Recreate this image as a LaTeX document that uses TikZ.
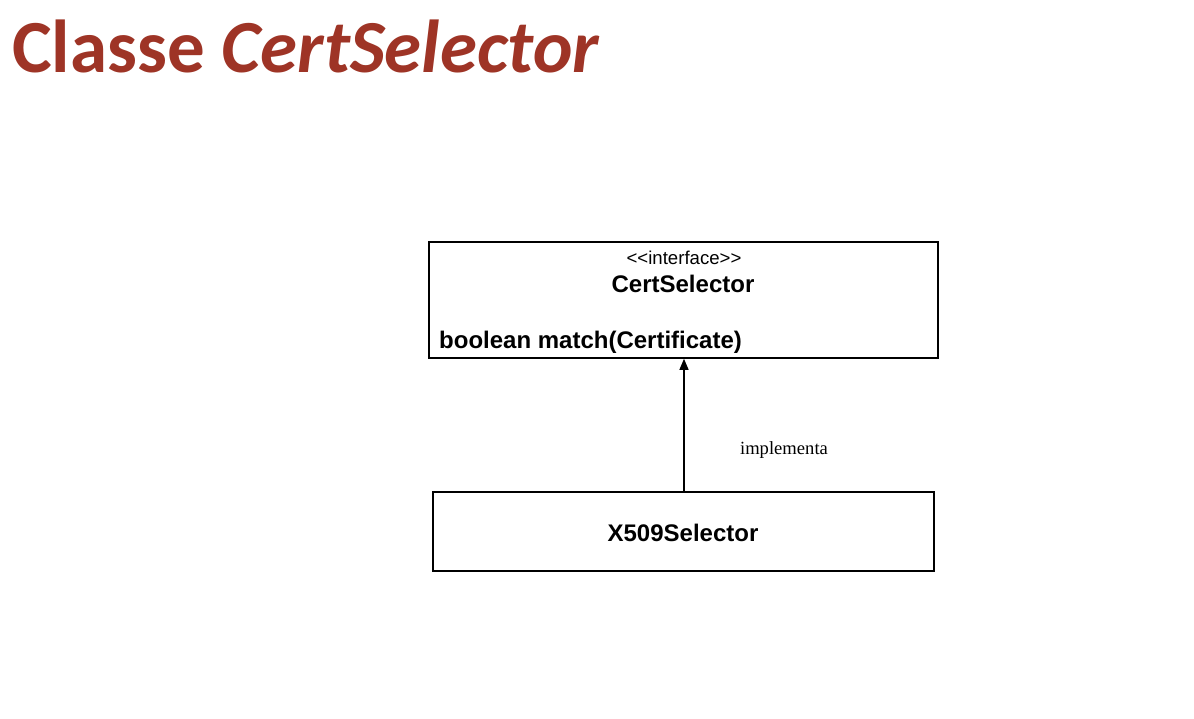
\documentclass[tikz,border=0pt]{standalone}
\usepackage{fontspec}
\setmainfont{Liberation Serif}
\setsansfont{Liberation Sans}
\newfontfamily\titlefont{Carlito}
\usepackage{tikz}
\usetikzlibrary{arrows.meta}
\definecolor{titlered}{RGB}{158,52,38}

\begin{document}
\begin{tikzpicture}[x=1pt,y=-1pt]
  \tikzstyle{ClassBox}=[draw,line width=1.6pt,inner sep=0pt,minimum width=#1]
  \tikzstyle{UMLText}=[font=\sffamily\bfseries\fontsize{24}{28}\selectfont,inner sep=0pt]
  \tikzstyle{Realize}=[line width=1.2pt,-{Triangle[length=11pt,width=9pt]}]
  \useasboundingbox (0,0) rectangle (1194,719);
  \node[anchor=base west,text=titlered,inner sep=0pt,
        font=\titlefont\bfseries\fontsize{75}{80}\selectfont]
        (title) at (12,73) {Classe \textit{CertSelector}};
  \node[ClassBox=509pt,minimum height=116pt] (iface) at (683.5,300) {};
  \node[inner sep=0pt,font=\sffamily\fontsize{18.6}{22}\selectfont]
        (stereo) at (684,258) {<\kern0pt<interface>\kern0pt>};
  \node[UMLText] (ifname) at (683,284) {CertSelector};
  \node[UMLText,anchor=west] (method) at (439,342) {boolean match(Certificate)};
  \node[ClassBox=501pt,minimum height=79pt] (impl) at (683.5,531.5) {};
  \node[UMLText] (implname) at (683,533) {X509Selector};
  \draw[Realize] (impl.north -| 684,0) -- (iface.south -| 684,0);
  \node[font=\fontsize{18.6}{22}\selectfont,inner sep=0pt] (rel) at (784,450) {implementa};
\end{tikzpicture}
\end{document}
